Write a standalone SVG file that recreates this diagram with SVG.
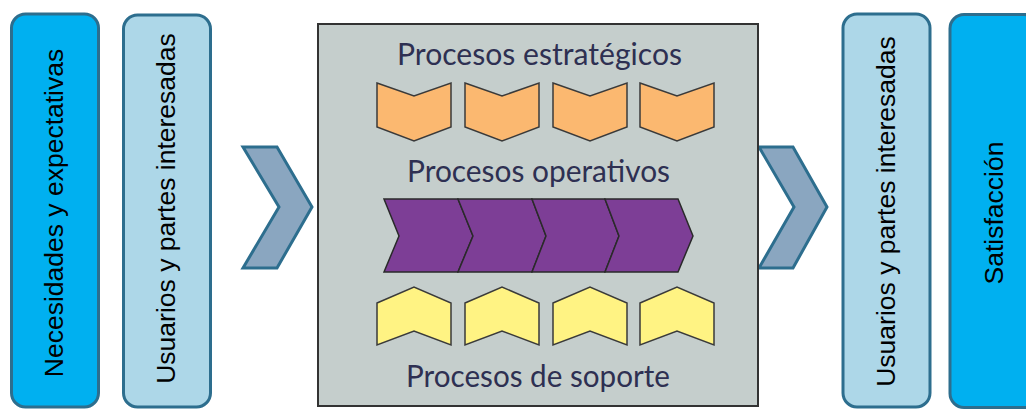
<svg xmlns="http://www.w3.org/2000/svg" width="1026" height="409" viewBox="0 0 1026 409">
<style>
.side{stroke:#2D6E8E;stroke-width:3}
.dark{fill:#00B0F0}
.light{fill:#ADD7E8}
.vt{font-family:"Liberation Sans",Arial,sans-serif;font-size:26.5px;fill:#000;text-anchor:middle}
.chev{fill:#8AA6C0;stroke:#2D6E8E;stroke-width:3;stroke-linejoin:miter}
.ct{font-family:Lato,"Open Sans",sans-serif;font-size:30.5px;fill:#2E3052}
.org{fill:#FBB870;stroke:#3a3a3a;stroke-width:1.5}
.pur{fill:#7D3E96;stroke:#2a2a2a;stroke-width:1.5}
.yel{fill:#FFF383;stroke:#3a3a3a;stroke-width:1.5}
</style>
<rect width="1026" height="409" fill="#fff"/>
<g id="necesidades">
<rect class="side dark" x="11.5" y="14" width="87" height="393" rx="14"/>
<text class="vt" transform="translate(63,213) rotate(-90)">Necesidades y expectativas</text>
</g>
<g id="usuarios-in">
<rect class="side light" x="123.5" y="15" width="87" height="392" rx="14"/>
<text class="vt" transform="translate(175,208.5) rotate(-90)">Usuarios y partes interesadas</text>
</g>
<g id="usuarios-out">
<rect class="side light" x="843" y="14" width="87" height="393" rx="14"/>
<text class="vt" transform="translate(895,211.5) rotate(-90)">Usuarios y partes interesadas</text>
</g>
<g id="satisfaccion">
<rect class="side dark" x="950" y="14.5" width="88" height="393" rx="14"/>
<text class="vt" transform="translate(1003,213) rotate(-90)">Satisfacción</text>
</g>
<g id="connectors">
<polygon class="chev" points="243,147 277,147 312,207 277,268 243,268 279,207"/>
<polygon class="chev" points="759,147 793,147 827,207 793,268 759,268 794,207"/>
</g>
<g id="procesos">
<rect x="318" y="24" width="440" height="382" fill="#C5CECC" stroke="#333" stroke-width="2"/>
<text class="ct" x="397" y="65" textLength="285" lengthAdjust="spacingAndGlyphs">Procesos estratégicos</text>
<text class="ct" x="407" y="182" textLength="263" lengthAdjust="spacingAndGlyphs">Procesos operativos</text>
<text class="ct" x="406" y="387" textLength="264" lengthAdjust="spacingAndGlyphs">Procesos de soporte</text>
</g>
<g id="estrategicos">
<polygon class="org" points="377,83 414,96 451,83 451,127 414,141 377,127"/>
<polygon class="org" points="465,83 502,96 539,83 539,127 502,141 465,127"/>
<polygon class="org" points="553,83 590,96 627,83 627,127 590,141 553,127"/>
<polygon class="org" points="640,83 677,96 714,83 714,127 677,141 640,127"/>
</g>
<g id="operativos">
<polygon class="pur" points="384,199 458,199 473,236 458,272 384,272 399,236"/>
<polygon class="pur" points="458,199 532,199 546,236 532,272 458,272 473,236"/>
<polygon class="pur" points="532,199 605,199 619,236 605,272 532,272 546,236"/>
<polygon class="pur" points="605,199 678,199 693,236 678,272 605,272 619,236"/>
</g>
<g id="soporte">
<polygon class="yel" points="377,303 414,287 451,303 451,345 414,331 377,345"/>
<polygon class="yel" points="465,303 502,287 539,303 539,345 502,331 465,345"/>
<polygon class="yel" points="553,303 590,287 627,303 627,345 590,331 553,345"/>
<polygon class="yel" points="640,303 677,287 714,303 714,345 677,331 640,345"/>
</g>
</svg>
